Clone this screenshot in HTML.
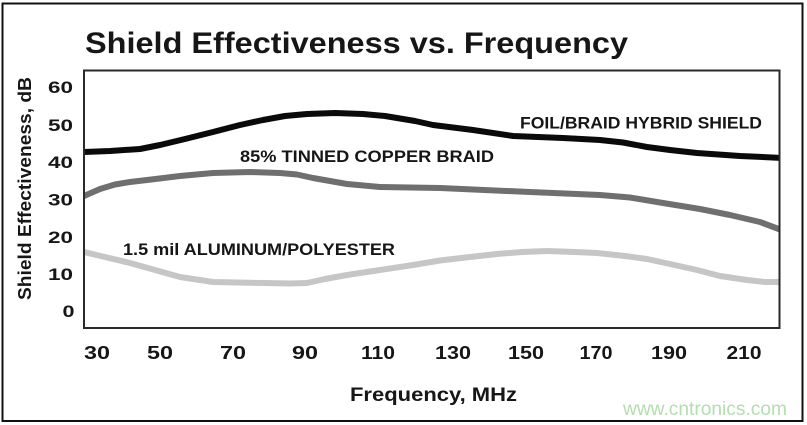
<!DOCTYPE html>
<html>
<head>
<meta charset="utf-8">
<style>
  html, body { margin: 0; padding: 0; background: #ffffff; }
  svg { display: block; }
  text { font-family: "Liberation Sans", "DejaVu Sans", sans-serif; fill: #161616; }
</style>
</head>
<body>
<svg width="807" height="425" viewBox="0 0 807 425" xmlns="http://www.w3.org/2000/svg">
  <rect x="0" y="0" width="807" height="425" fill="#ffffff"/>
  <!-- outer frame -->
  <rect x="2.5" y="3.5" width="800" height="417.5" fill="none" stroke="#111" stroke-width="2"/>

  <!-- title -->
  <text x="85" y="53" font-size="30" font-weight="bold" textLength="543" lengthAdjust="spacingAndGlyphs">Shield Effectiveness vs. Frequency</text>

  <defs>
    <clipPath id="plot"><rect x="84" y="70" width="696" height="258"/></clipPath>
  </defs>

  <g clip-path="url(#plot)" fill="none" stroke-linejoin="round" stroke-linecap="round">
    <!-- light gray: aluminum/polyester -->
    <polyline stroke="#c6c6c6" stroke-width="6" points="80,251 84,252 105,257 130,263 155,270 180,277 213,282 263,283 290,283.5 307,283 325,279 347,275 380,270 413,265 440,260.5 470,257 497,254 522,252 547,251 575,252 597,253 625,256 647,259 670,264 697,270 720,276 747,280 765,282 784,282"/>
    <!-- dark gray: copper braid -->
    <polyline stroke="#6f6f6f" stroke-width="6" points="80,198 84,196 100,189 115,184.5 130,182 147,180 180,176 213,173 250,172 280,173 297,174.5 313,178 330,181 347,184 380,187 440,188 530,192 600,195 630,197.5 663,203 700,209 730,215 760,222 784,231"/>
    <!-- black: foil/braid -->
    <polyline stroke="#0a0a0a" stroke-width="6" points="80,152.5 84,152 110,151 140,149 160,145 185,139 213,132 240,125 263,120 285,116 307,114 335,113 363,114 385,116 397,118 415,121 433,125 473,130 513,136 563,138 600,140 623,142.5 647,147 670,150 697,153 740,156 784,158"/>
  </g>

  <!-- plot border -->
  <rect x="84" y="70.5" width="695.5" height="257.5" fill="none" stroke="#2a2a2a" stroke-width="2"/>

  <!-- series labels -->
  <text x="520" y="128.5" font-size="16.5" font-weight="bold" textLength="242" lengthAdjust="spacingAndGlyphs">FOIL/BRAID HYBRID SHIELD</text>
  <text x="240" y="162" font-size="17" font-weight="bold" textLength="254" lengthAdjust="spacingAndGlyphs">85% TINNED COPPER BRAID</text>
  <text x="123" y="255" font-size="17" font-weight="bold" textLength="272" lengthAdjust="spacingAndGlyphs">1.5 mil ALUMINUM/POLYESTER</text>

  <!-- y tick labels -->
  <g font-size="17" font-weight="bold" text-anchor="end">
    <text x="73" y="93" textLength="25" lengthAdjust="spacingAndGlyphs">60</text>
    <text x="73" y="131" textLength="25" lengthAdjust="spacingAndGlyphs">50</text>
    <text x="73" y="168" textLength="25" lengthAdjust="spacingAndGlyphs">40</text>
    <text x="73" y="205.5" textLength="25" lengthAdjust="spacingAndGlyphs">30</text>
    <text x="73" y="243" textLength="25" lengthAdjust="spacingAndGlyphs">20</text>
    <text x="73" y="280" textLength="25" lengthAdjust="spacingAndGlyphs">10</text>
    <text x="74.5" y="317" textLength="12" lengthAdjust="spacingAndGlyphs">0</text>
  </g>

  <!-- y axis label -->
  <text transform="translate(31,188.5) rotate(-90)" x="0" y="0" font-size="18.5" font-weight="bold" text-anchor="middle" textLength="223" lengthAdjust="spacingAndGlyphs">Shield Effectiveness, dB</text>

  <!-- x tick labels -->
  <g font-size="18" font-weight="bold" text-anchor="middle">
    <text x="97" y="359" textLength="26" lengthAdjust="spacingAndGlyphs">30</text>
    <text x="160" y="359" textLength="26" lengthAdjust="spacingAndGlyphs">50</text>
    <text x="233" y="359" textLength="26" lengthAdjust="spacingAndGlyphs">70</text>
    <text x="305" y="359" textLength="26" lengthAdjust="spacingAndGlyphs">90</text>
    <text x="378" y="359" textLength="34" lengthAdjust="spacingAndGlyphs">110</text>
    <text x="453" y="359" textLength="36" lengthAdjust="spacingAndGlyphs">130</text>
    <text x="526" y="359" textLength="36" lengthAdjust="spacingAndGlyphs">150</text>
    <text x="596" y="359" textLength="33" lengthAdjust="spacingAndGlyphs">170</text>
    <text x="669" y="359" textLength="36" lengthAdjust="spacingAndGlyphs">190</text>
    <text x="744" y="359" textLength="35" lengthAdjust="spacingAndGlyphs">210</text>
  </g>

  <!-- x axis label -->
  <text x="350" y="401" font-size="19" font-weight="bold" textLength="167" lengthAdjust="spacingAndGlyphs">Frequency, MHz</text>

  <!-- watermark -->
  <text x="623" y="415" font-size="19" style="fill:#b4ddb0" textLength="164" lengthAdjust="spacingAndGlyphs">www.cntronics.com</text>
</svg>
</body>
</html>
